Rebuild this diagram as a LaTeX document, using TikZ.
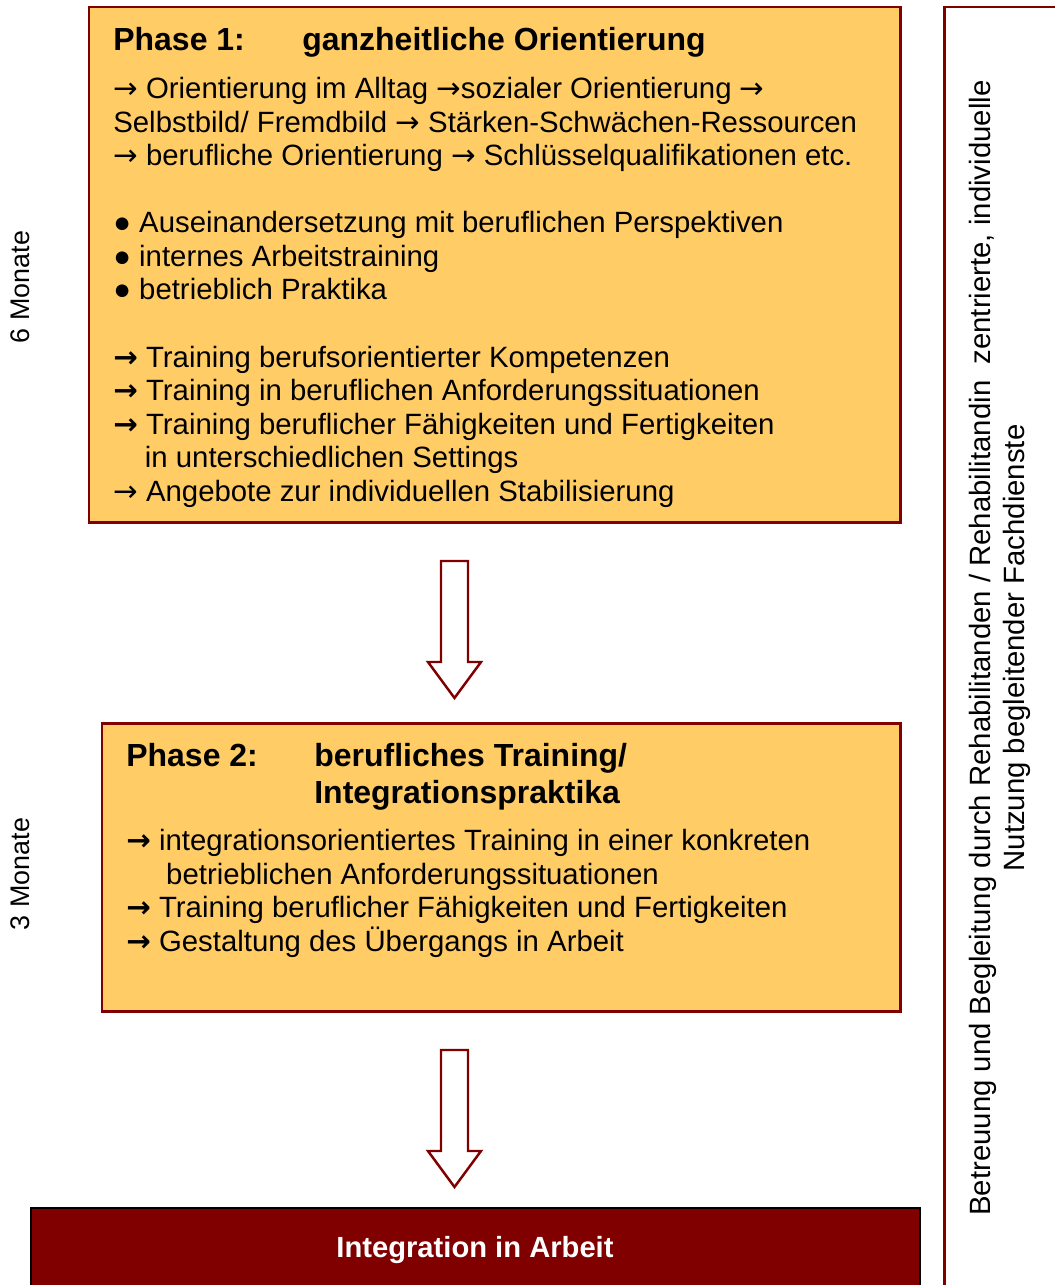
\documentclass[tikz,border=0pt]{standalone}
\usepackage{fontspec}
\setmainfont{Liberation Sans}
\newfontfamily\arrowfont{DejaVu Sans}
\usetikzlibrary{positioning}
\definecolor{darkred}{RGB}{128,0,0}
\definecolor{phasefill}{RGB}{255,204,102}
\newcommand{\ra}{{\arrowfont →}}
\newcommand{\rab}{{\arrowfont\bfseries →}}

\begin{document}
\begin{tikzpicture}[x=0.02cm, y=-0.02cm]

\tikzset{phasebox/.style = {draw=darkred, line width=1.7pt, fill=phasefill}}
\tikzset{body/.style = {anchor=north west, inner sep=0pt, align=left, font=\fontsize{16.7}{19.1}\selectfont}}
\tikzset{head/.style = {anchor=north west, inner sep=0pt, align=left, font=\fontsize{18.2}{21}\selectfont\bfseries}}
\tikzset{side/.style = {rotate=90, inner sep=0pt, align=center, font=\fontsize{16.7}{19.1}\selectfont}}
\tikzset{bigarrow/.style = {draw=darkred, line width=1.4pt, fill=white, line join=miter}}

\useasboundingbox (0,0) rectangle (1055,1285);
\clip (0,0) rectangle (1055,1285);

% boxes
\draw[phasebox] (89,7) rectangle (900,522);
\draw[phasebox] (102,723) rectangle (900,1011);
\draw[draw=black, line width=0.8pt, fill=darkred] (31,1208) rectangle (920,1300);
\draw[draw=darkred, line width=1.7pt] (944,1300) -- (944,7) -- (1070,7);

% phase 1
\node[head] (p1lbl) at (113,27) {Phase 1:};
\node[head] (p1title) at (302,27) {ganzheitliche Orientierung};
\node[body] (p1text) at (113,77) {\ra{} Orientierung im Alltag \ra sozialer Orientierung \ra\\
Selbstbild/ Fremdbild \ra{} Stärken-Schwächen-Ressourcen\\
\ra{} berufliche Orientierung \ra{} Schlüsselqualifikationen etc.\\[19.1pt]
● Auseinandersetzung mit beruflichen Perspektiven\\
● internes Arbeitstraining\\
● betrieblich Praktika\\[19.1pt]
\rab{} Training berufsorientierter Kompetenzen\\
\rab{} Training in beruflichen Anforderungssituationen\\
\rab{} Training beruflicher Fähigkeiten und Fertigkeiten\\
\hspace*{18pt}in unterschiedlichen Settings\\
\ra{} Angebote zur individuellen Stabilisierung};

% phase 2
\node[head] (p2lbl) at (126,743) {Phase 2:};
\node[head] (p2title) at (314,743) {berufliches Training/\\Integrationspraktika};
\node[body] (p2text) at (126,829) {\rab{} integrationsorientiertes Training in einer konkreten\\
\hspace*{22.7pt}betrieblichen Anforderungssituationen\\
\rab{} Training beruflicher Fähigkeiten und Fertigkeiten\\
\rab{} Gestaltung des Übergangs in Arbeit};

% goal
\node[font=\fontsize{16.6}{19.1}\selectfont\bfseries, text=white] (goal) at (475,1250) {Integration in Arbeit};

% durations and care
\node[side, font=\fontsize{15.3}{18}\selectfont] (dur1) at (20,287) {6 Monate};
\node[side, font=\fontsize{15.3}{18}\selectfont] (dur2) at (20,874) {3 Monate};
\node[side] (care) at (1000,648) {Betreuung und Begleitung durch Rehabilitanden / Rehabilitandin\ \ zentrierte, individuelle\\Nutzung begleitender Fachdienste};

% arrows
\foreach \y in {561, 1050}
  \draw[bigarrow] (441,\y) -- (468,\y) -- (468,\y+101) -- (481,\y+101) -- (454.5,\y+137) -- (428,\y+101) -- (441,\y+101) -- cycle;

\end{tikzpicture}
\end{document}
